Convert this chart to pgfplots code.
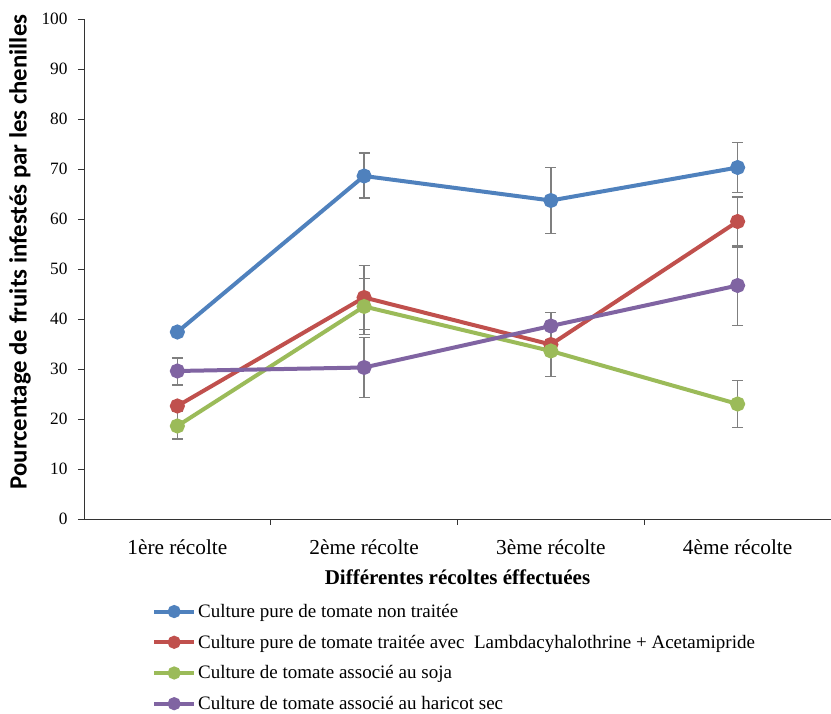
\documentclass[border=0pt]{standalone}
\usepackage{fontspec}
\setmainfont{Liberation Serif}
\newfontfamily\calib{Carlito}
\usepackage{pgfplots}
\pgfplotsset{compat=1.18}
\definecolor{cblue}{HTML}{4F81BD}
\definecolor{cred}{HTML}{C0504D}
\definecolor{cgreen}{HTML}{9BBB59}
\definecolor{cpurple}{HTML}{8064A2}
\definecolor{errg}{HTML}{7F7F7F}
\pgfplotsset{myerr/.style={error bars/y dir=both, error bars/y explicit,
    error bars/error bar style={errg, line width=1.3pt},
    error bars/error mark options={rotate=90, errg, line width=1.3pt, mark size=5.5pt}}}
\begin{document}
\begin{tikzpicture}[x=1pt,y=1pt]
\useasboundingbox (-84,-195) rectangle (747,519);
\begin{axis}[
  at={(0,0)}, anchor=south west,
  width=747pt, height=500pt, scale only axis,
  xmin=0.5, xmax=4.5, ymin=0, ymax=100,
  axis x line=bottom, axis y line=left,
  axis line style={-, black!80, line width=0.9pt},
  xtick={1,2,3,4},
  xticklabels={1ère récolte,2ème récolte,3ème récolte,4ème récolte},
  major x tick style={draw=none},
  minor xtick={1.5,2.5,3.5},
  minor tick length=6pt,
  x tick style={black!80, line width=0.9pt},
  ytick={0,10,...,100},
  y tick style={black!80, line width=0.9pt},
  tick align=outside,
  major tick length=6pt,
  xtick pos=bottom, ytick pos=left,
  /pgf/number format/assume math mode=true,
  yticklabel style={font=\fontsize{17.3}{20}\selectfont, xshift=-7pt},
  xticklabel style={font=\fontsize{21.3}{24}\selectfont, yshift=-11pt},
  xlabel={\textbf{Différentes récoltes éffectuées}},
  xlabel style={font=\fontsize{21}{24}\selectfont, yshift=-8pt},
  ylabel={\calib\bfseries Pourcentage de fruits infestés par les chenilles},
  ylabel style={font=\fontsize{24.8}{28}\selectfont,
    at={(axis description cs:-0.0857,0.534)}, anchor=center},
  legend style={at={(0.091,-0.166)}, anchor=north west, draw=none,
    font=\fontsize{19}{21}\selectfont, row sep=12pt, cells={anchor=west},
    inner xsep=0pt, inner ysep=0pt},
  legend cell align=left,
  legend image code/.code={\draw[#1, mark=none] (0pt,0pt) -- (40pt,0pt);
    \draw[#1] plot[mark size=4.5pt] coordinates {(20pt,0pt)};},
  every axis plot/.append style={line width=4pt, mark=*, mark size=5.5pt,
    mark options={line width=0pt}},
]
\addplot[cblue, mark options={fill=cblue}, myerr] table[y error plus=ep, y error minus=em] {
x y ep em
1 37.4 0 0
2 68.6 4.6 4.4
3 63.7 6.6 6.6
4 70.3 5.0 5.0
};
\addlegendentry{Culture pure de tomate non traitée}
\addplot[cred, mark options={fill=cred}, myerr] table[y error plus=ep, y error minus=em] {
x y ep em
1 22.6 0.8 0.8
2 44.3 6.4 6.4
3 34.9 0.9 0.9
4 59.5 4.9 4.9
};
\addlegendentry{Culture pure de tomate traitée avec\ \ Lambdacyhalothrine + Acetamipride}
\addplot[cgreen, mark options={fill=cgreen}, myerr] table[y error plus=ep, y error minus=em] {
x y ep em
1 18.6 3.0 2.6
2 42.5 5.6 5.6
3 33.6 5.1 5.1
4 23.0 4.7 4.7
};
\addlegendentry{Culture de tomate associé au soja}
\addplot[cpurple, mark options={fill=cpurple}, myerr] table[y error plus=ep, y error minus=em] {
x y ep em
1 29.6 2.6 2.8
2 30.3 6.0 6.0
3 38.6 2.7 2.7
4 46.7 7.6 8.0
};
\addlegendentry{Culture de tomate associé au haricot sec}
\end{axis}
\end{tikzpicture}
\end{document}
